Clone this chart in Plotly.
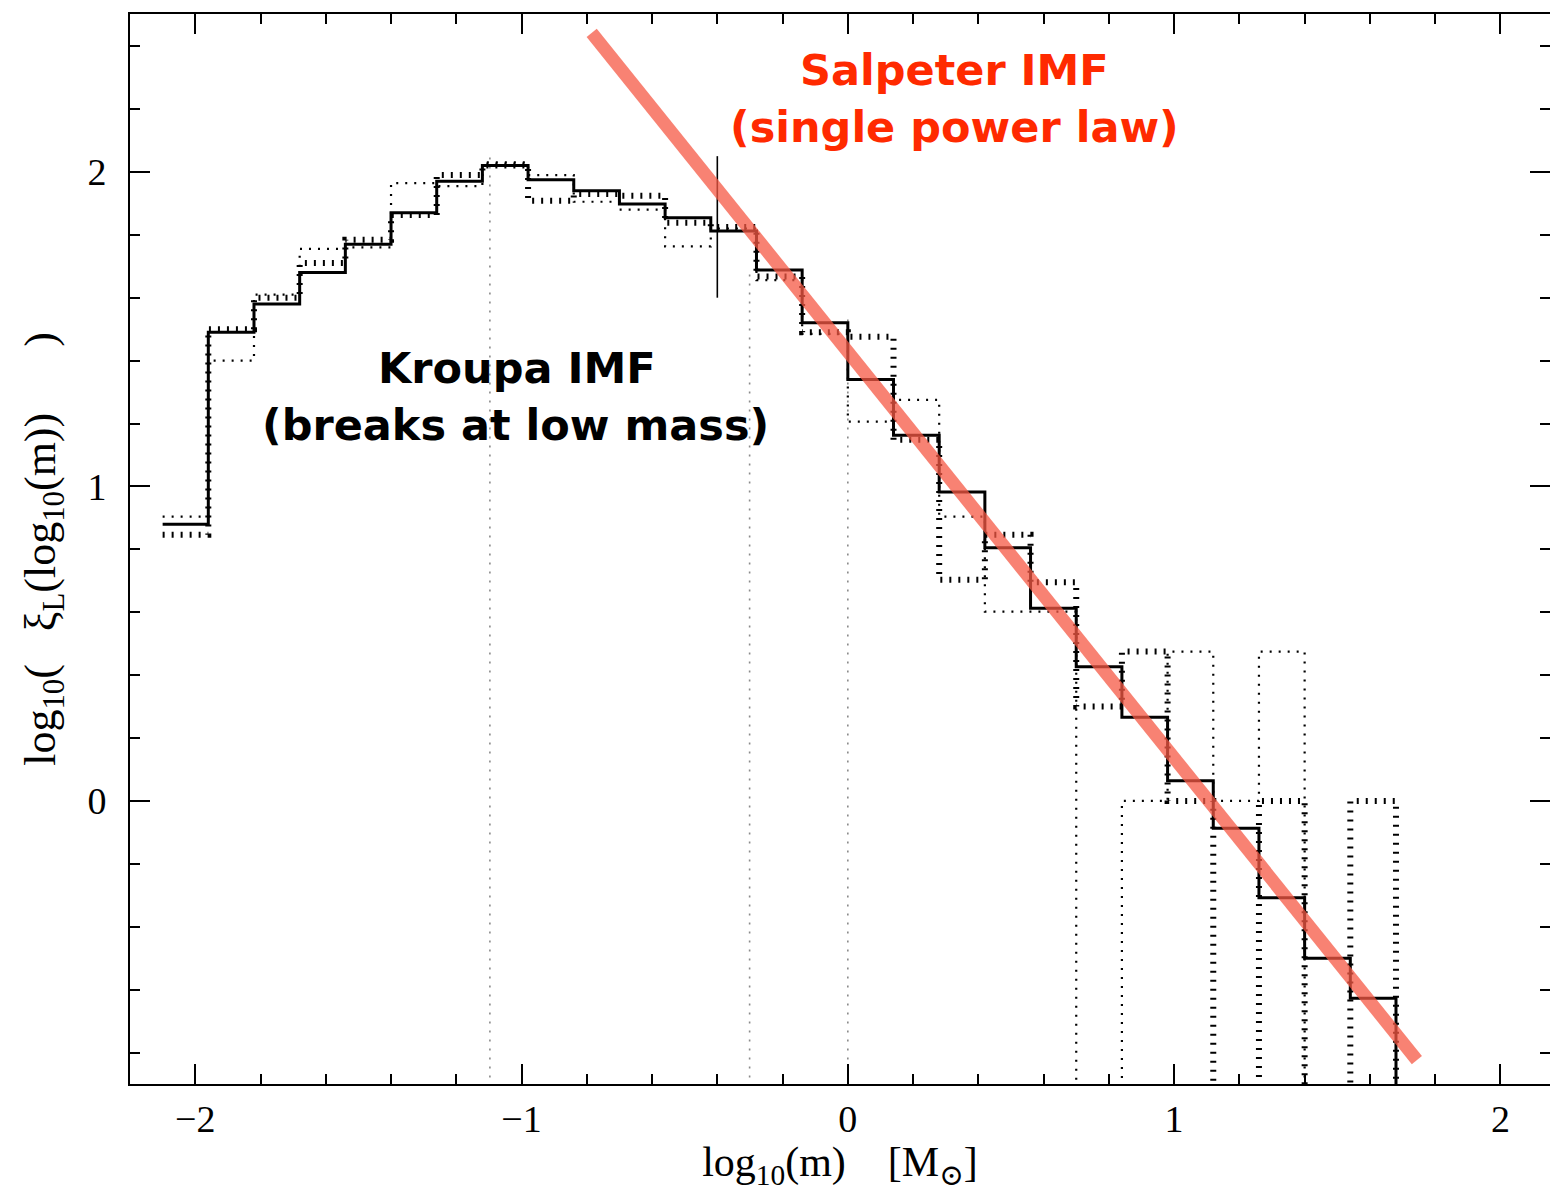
import plotly.graph_objects as go

# ---------------- data ----------------
bin_edges = [-2.10, -1.96, -1.82, -1.68, -1.54, -1.40, -1.26, -1.12, -0.98, -0.84,
             -0.70, -0.56, -0.42, -0.28, -0.14, 0.00, 0.14, 0.28, 0.42, 0.56,
             0.70, 0.84, 0.98, 1.12, 1.26, 1.40, 1.54, 1.68]

# main (solid) histogram, log10 xi_L per bin
solid_vals = [0.88, 1.49, 1.58, 1.68, 1.77, 1.87, 1.97, 2.02, 1.975, 1.94,
              1.898, 1.854, 1.812, 1.688, 1.52, 1.34, 1.163, 0.982, 0.805, 0.613,
              0.427, 0.266, 0.064, -0.087, -0.308, -0.50, -0.627]

# fine dotted histogram (None = empty bin)
fine_vals = [0.904, 1.40, 1.61, 1.755, 1.76, 1.964, 1.955, 2.03, 1.99, 1.905,
             1.88, 1.763, 1.82, 1.656, 1.485, 1.206, 1.275, 0.904, 0.602, 0.602,
             None, 0.0, 0.475, 0.0, 0.475, None, None]

# heavy dotted histogram (None = empty bin)
heavy_vals = [0.846, 1.50, 1.60, 1.71, 1.784, 1.863, 1.99, 2.02, 1.908, 1.93,
              1.924, 1.838, 1.825, 1.667, 1.49, 1.476, 1.148, 0.703, 0.846, 0.695,
              0.30, 0.475, 0.0, None, 0.0, None, 0.0]

# IMF break masses (log10 m) shown as thin dotted verticals, and their tops
break_x = [-1.097, -0.301, 0.0]
break_top = [2.06, 1.68, 1.545]

# thin solid vertical marker
marker_x = [-0.40, -0.40]
marker_y = [1.60, 2.05]

# Salpeter single power law (end points of the drawn line)
salpeter_x = [-0.785, 1.744]
salpeter_y = [2.442, -0.824]

x_range = [-2.200, 2.152]
y_range = [-0.900, 2.502]
FLOOR = -5.0  # log10(0) drawn below the frame


def step_xy(edges, vals, drop_end=False):
    v = [FLOOR if a is None else a for a in vals]
    xs = list(edges)
    ys = v + [v[-1]]
    if drop_end:
        xs.append(edges[-1])
        ys.append(FLOOR)
    return xs, ys


fig = go.Figure()

# IMF break lines
for bx, bt in zip(break_x, break_top):
    fig.add_trace(go.Scatter(x=[bx, bx], y=[FLOOR, bt], mode="lines",
                             line=dict(color="#8a8a8a", width=1.6, dash="2px,7px"),
                             showlegend=False, hoverinfo="skip"))

fx, fy = step_xy(bin_edges, fine_vals)
fig.add_trace(go.Scatter(x=fx, y=fy, mode="lines", line_shape="hv",
                         line=dict(color="black", width=2.2, dash="2px,7px"),
                         showlegend=False, hoverinfo="skip"))

hx, hy = step_xy(bin_edges, heavy_vals, drop_end=True)
fig.add_trace(go.Scatter(x=hx, y=hy, mode="lines", line_shape="hv",
                         line=dict(color="black", width=6, dash="2px,7px"),
                         showlegend=False, hoverinfo="skip"))

sx, sy = step_xy(bin_edges, solid_vals, drop_end=True)
fig.add_trace(go.Scatter(x=sx, y=sy, mode="lines", line_shape="hv",
                         line=dict(color="black", width=3),
                         showlegend=False, hoverinfo="skip"))

fig.add_trace(go.Scatter(x=marker_x, y=marker_y, mode="lines",
                         line=dict(color="black", width=1.6),
                         showlegend=False, hoverinfo="skip"))

fig.add_trace(go.Scatter(x=salpeter_x, y=salpeter_y, mode="lines",
                         line=dict(color="rgba(246,88,68,0.75)", width=13),
                         showlegend=False, hoverinfo="skip"))

label_font = dict(family="'DejaVu Sans', Lato, sans-serif", size=43, color="black", weight="bold")
red_font = dict(family="'DejaVu Sans', Lato, sans-serif", size=43, color="#FF2A00", weight="bold")

annotations = [
    dict(x=-1.015, y=1.377, text="Kroupa IMF", font=label_font),
    dict(x=-1.018, y=1.196, text="(breaks at low mass)", font=label_font),
    dict(x=0.328, y=2.324, text="Salpeter IMF", font=red_font),
    dict(x=0.328, y=2.143, text="(single power law)", font=red_font),
]
for a in annotations:
    a.update(xref="x", yref="y", showarrow=False, xanchor="center", yanchor="middle")

serif = "'Liberation Serif', 'DejaVu Serif', serif"

axis_common = dict(
    showline=True, linecolor="black", linewidth=2, mirror="allticks",
    ticks="inside", ticklen=20, tickwidth=1.5, tickcolor="black",
    showgrid=False, zeroline=False, automargin=False,
    tickfont=dict(family=serif, size=38, color="black"),
)

fig.update_layout(
    width=1550, height=1191,
    margin=dict(l=130, r=0, t=14, b=107),
    paper_bgcolor="white", plot_bgcolor="white",
    annotations=annotations,
    xaxis=dict(range=x_range, tick0=0, dtick=1,
               tickvals=[-2, -1, 0, 1, 2], ticktext=["\u22122", "\u22121", "0", "1", "2"],
               minor=dict(dtick=0.2, tick0=0, ticks="inside", ticklen=10,
                          tickwidth=1.5, tickcolor="black"),
               ticklabelstandoff=0,
               title=dict(text="log<sub>10</sub>(m)    [M<sub>\u2299</sub>]",
                          font=dict(family=serif, size=42, color="black"), standoff=10),
               **axis_common),
    yaxis=dict(range=y_range, tick0=0, dtick=1,
               tickvals=[0, 1, 2], ticktext=["0", "1", "2"],
               minor=dict(dtick=0.2, tick0=0, ticks="inside", ticklen=10,
                          tickwidth=1.5, tickcolor="black"),
               ticklabelstandoff=14,
               title=dict(text="log<sub>10</sub>(   \u03be<sub>L</sub>(log<sub>10</sub>(m))      )",
                          font=dict(family=serif, size=44, color="black"), standoff=18),
               **axis_common),
)

fig.write_html("out.html", config={"displayModeBar": False},
               post_script="document.body.style.margin='0';document.body.style.overflow='hidden';")
